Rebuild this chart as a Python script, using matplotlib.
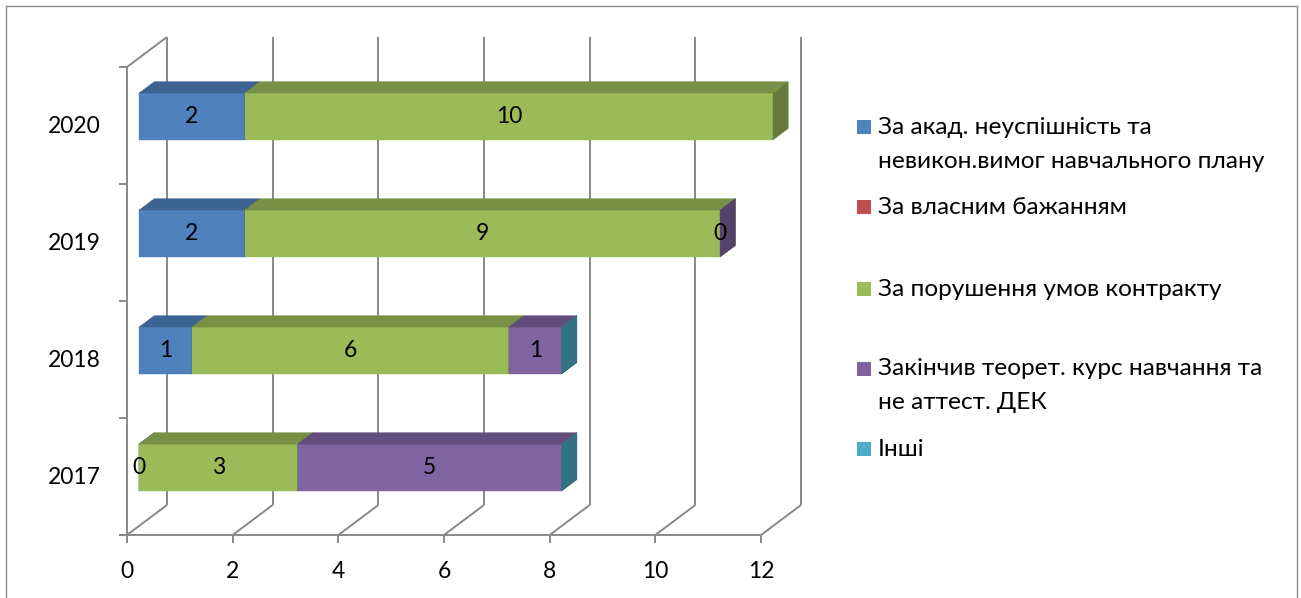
import matplotlib.pyplot as plt
from matplotlib.patches import Polygon, Rectangle

plt.rcParams['font.family'] = ['Lato', 'DejaVu Sans']

# data
years = ['2017', '2018', '2019', '2020']
series_names = ['За акад. неуспішність та\nневикон.вимог навчального плану',
                'За власним бажанням',
                'За порушення умов контракту',
                'Закінчив теорет. курс навчання та\nне аттест. ДЕК',
                'Інші']
academic = [0, 1, 2, 2]
own_wish = [None, None, None, None]
contract = [3, 6, 9, 10]
no_attest = [5, 1, 0, None]
other = [0, 0, None, None]
x_ticks = [0, 2, 4, 6, 8, 10, 12]

series = [academic, own_wish, contract, no_attest, other]
colors = ['#4F81BD', '#C0504D', '#9BBB59', '#8064A2', '#4BACC6']
show_label = [True, True, True, True, False]

W, H = 1301, 598
fig = plt.figure(figsize=(W / 100, H / 100), dpi=100)
ax = fig.add_axes([127 / W, (H - 535) / H, 634 / W, 468 / H])
ax.set_xlim(0, 12)
ax.set_ylim(0, 4)
ax.axis('off')

# 3d depth of the walls in data units
DX = 40 / 634 * 12
DY = 30 / 468 * 4
f0, f1 = 0.3, 0.68
grid = '#898989'
lw = 1.4
fs = 16.5


def shade(c, k):
    c = c.lstrip('#')
    r, g, b = (int(c[i:i + 2], 16) for i in (0, 2, 4))
    return (r * k / 255, g * k / 255, b * k / 255)


def line(xs, ys):
    ax.plot(xs, ys, color=grid, lw=lw, clip_on=False, zorder=1,
            solid_capstyle='butt')


# walls and floor
line([0, 0], [0, 4])
line([0, DX], [4, 4 + DY])
line([-0.15, 12], [0, 0])
for k in x_ticks:
    line([k, k + DX], [0, DY])
    line([k + DX, k + DX], [DY, 4 + DY])
    line([k, k], [0, -0.068])
    ax.text(k, -0.31, str(k), ha='center', va='center', fontsize=fs)
for j in range(len(years) + 1):
    line([-0.15, 0], [j, j])
for i, y in enumerate(years):
    ax.text(-0.49, i + 0.49, y, ha='right', va='center', fontsize=fs)

# stacked 3d bars
ox0, oy0 = f0 * DX, f0 * DY
ox1, oy1 = f1 * DX, f1 * DY
z = 2
labels = []
for i in range(len(years)):
    left = 0
    y0, y1 = i + 0.3, i + 0.7
    for s, vals in enumerate(series):
        v = vals[i]
        if v is None:
            continue
        x0, x1 = left, left + v
        c = colors[s]
        front = [(x0 + ox0, y0 + oy0), (x1 + ox0, y0 + oy0),
                 (x1 + ox0, y1 + oy0), (x0 + ox0, y1 + oy0)]
        top = [(x0 + ox0, y1 + oy0), (x1 + ox0, y1 + oy0),
               (x1 + ox1, y1 + oy1), (x0 + ox1, y1 + oy1)]
        side = [(x1 + ox0, y0 + oy0), (x1 + ox1, y0 + oy1),
                (x1 + ox1, y1 + oy1), (x1 + ox0, y1 + oy0)]
        for pts, col in [(front, c), (top, shade(c, 0.77)), (side, shade(c, 0.66))]:
            ax.add_patch(Polygon(pts, closed=True, facecolor=col, edgecolor=col,
                                 lw=0.3, clip_on=False, zorder=z))
        z += 1
        if show_label[s]:
            labels.append(((x0 + x1) / 2 + ox0, (y0 + y1) / 2 + oy0, str(v)))
        left = x1

for x, y, t in labels:
    ax.text(x, y, t, ha='center', va='center', fontsize=fs, zorder=100)

# legend
marker_y = [127, 207, 289, 369, 449]
text_y = [144.5, 207, 289, 385.5, 449]
for s, name in enumerate(series_names):
    fig.add_artist(Rectangle((857 / W, 1 - (marker_y[s] + 7) / H), 14 / W, 14 / H,
                             transform=fig.transFigure, facecolor=colors[s],
                             edgecolor='none'))
    fig.text(878 / W, 1 - text_y[s] / H, name, ha='left', va='center',
             fontsize=17.6, linespacing=1.78)

# chart border
fig.add_artist(Rectangle((6 / W, -0.01), (1297 - 6) / W, 1.01 - 6 / H,
                         transform=fig.transFigure, fill=False,
                         edgecolor=grid, lw=1))

fig.savefig('out.png', dpi=100)
